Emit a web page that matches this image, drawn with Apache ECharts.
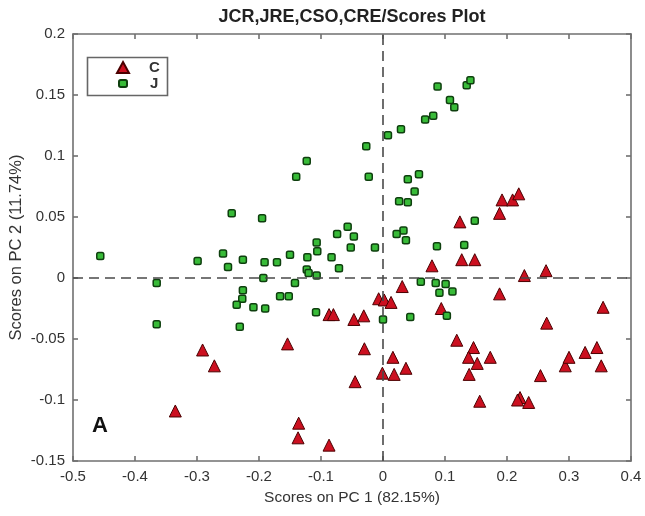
<!DOCTYPE html>
<html>
<head>
    <meta charset="utf-8">
    <title>Scores Plot</title>
    <script src="https://cdn.jsdelivr.net/npm/echarts@6/dist/echarts.min.js"></script>
    <style>
        html, body { margin: 0; padding: 0; background: #fff; }
        #chart { width: 645px; height: 516px; }
    </style>
</head>
<body>
<div id="chart"></div>
<script>
    // PC1 / PC2 scores
    var groupC = [
        [-0.335, -0.109], [-0.291, -0.059], [-0.272, -0.072], [-0.154, -0.054],
        [-0.136, -0.119], [-0.137, -0.131], [-0.087, -0.137], [-0.087, -0.030],
        [-0.080, -0.030], [-0.047, -0.034], [-0.031, -0.031], [-0.030, -0.058],
        [-0.045, -0.085], [-0.007, -0.017], [0.002, -0.018], [0.013, -0.020],
        [0.031, -0.007], [0.016, -0.065], [0.037, -0.074], [0.018, -0.079],
        [-0.001, -0.078], [0.079, 0.010], [0.127, 0.015], [0.148, 0.015],
        [0.124, 0.046], [0.188, 0.053], [0.192, 0.064], [0.209, 0.064],
        [0.219, 0.069], [0.094, -0.025], [0.188, -0.013], [0.228, 0.002],
        [0.263, 0.006], [0.264, -0.037], [0.355, -0.024], [0.119, -0.051],
        [0.146, -0.057], [0.138, -0.065], [0.173, -0.065], [0.152, -0.070],
        [0.139, -0.079], [0.156, -0.101], [0.221, -0.098], [0.217, -0.100],
        [0.235, -0.102], [0.254, -0.080], [0.294, -0.072], [0.300, -0.065],
        [0.326, -0.061], [0.345, -0.057], [0.352, -0.072]
    ];
    var groupJ = [
        [-0.456, 0.018], [-0.365, -0.004], [-0.365, -0.038], [-0.299, 0.014],
        [-0.258, 0.020], [-0.250, 0.009], [-0.244, 0.053], [-0.226, 0.015],
        [-0.226, -0.010], [-0.227, -0.017], [-0.236, -0.022], [-0.209, -0.024],
        [-0.190, -0.025], [-0.231, -0.040], [-0.195, 0.049], [-0.191, 0.013],
        [-0.193, 0.000], [-0.171, 0.013], [-0.150, 0.019], [-0.142, -0.004],
        [-0.166, -0.015], [-0.152, -0.015], [-0.140, 0.083], [-0.123, 0.096],
        [-0.122, 0.017], [-0.107, 0.029], [-0.106, 0.022], [-0.123, 0.007],
        [-0.120, 0.004], [-0.107, 0.002], [-0.108, -0.028], [-0.083, 0.017],
        [-0.071, 0.008], [-0.074, 0.036], [-0.057, 0.042], [-0.047, 0.034],
        [-0.052, 0.025], [-0.013, 0.025], [-0.027, 0.108], [-0.023, 0.083],
        [0.008, 0.117], [0.029, 0.122], [0.068, 0.130], [0.081, 0.133],
        [0.088, 0.157], [0.108, 0.146], [0.115, 0.140], [0.135, 0.158],
        [0.141, 0.162], [0.058, 0.085], [0.040, 0.081], [0.051, 0.071],
        [0.026, 0.063], [0.040, 0.062], [0.148, 0.047], [0.033, 0.039],
        [0.022, 0.036], [0.037, 0.031], [0.087, 0.026], [0.131, 0.027],
        [0.061, -0.003], [0.085, -0.004], [0.101, -0.005], [0.091, -0.012],
        [0.112, -0.011], [0.044, -0.032], [0.103, -0.031], [0.000, -0.034]
    ];
    var xRange = [-0.5, 0.4];
    var yRange = [-0.15, 0.2];

    var fmt = function (v) { return String(Math.round(v * 100) / 100); };
    var frame = { color: '#707070', width: 1.6 };
    var redC = '#cc1020', greenJ = '#38bb38';

    var myChart = echarts.init(document.getElementById('chart'));
    var option = {
        animation: false,
        textStyle: { fontFamily: 'Liberation Sans, Arial, sans-serif' },
        title: [{
            text: 'JCR,JRE,CSO,CRE/Scores Plot',
            left: 352, top: 8, padding: 0, textAlign: 'center',
            textStyle: { fontSize: 18, fontWeight: 'bold', color: '#222' }
        }, {
            text: 'A',
            left: 92, top: 415, padding: 0,
            textStyle: { fontSize: 22, fontWeight: 'bold', color: '#111' }
        }],
        grid: { left: 73, right: 14, top: 34, bottom: 55, outerBoundsMode: 'none', containLabel: false },
        // legend frame is drawn separately so both entries can keep their own icon size
        graphic: [{
            type: 'rect',
            shape: { x: 87.5, y: 57.5, width: 80, height: 38 },
            style: { fill: '#fff', stroke: '#666', lineWidth: 1.6 },
            z: 5
        }],
        legend: [{
            data: ['C'],
            left: 116, top: 60, padding: 0,
            itemWidth: 12, itemHeight: 11,
            textStyle: { fontSize: 15, fontWeight: 'bold', color: '#333', padding: [0, 0, 0, 15] },
            z: 10
        }, {
            data: ['J'],
            left: 118, top: 76, padding: 0,
            itemWidth: 8, itemHeight: 7,
            textStyle: { fontSize: 15, fontWeight: 'bold', color: '#333', padding: [0, 0, 0, 18] },
            z: 10
        }],
        xAxis: [{
            type: 'value', min: xRange[0], max: xRange[1], interval: 0.1,
            name: 'Scores on PC 1 (82.15%)', nameLocation: 'middle', nameGap: 29,
            nameMoveOverlap: false,
            nameTextStyle: { fontSize: 15.5, color: '#333' },
            axisLine: { onZero: false, lineStyle: frame },
            axisTick: { inside: true, length: 5, lineStyle: frame },
            axisLabel: { formatter: fmt, fontSize: 15, color: '#333', margin: 8 },
            splitLine: { show: false }
        }, {
            type: 'value', position: 'top', min: xRange[0], max: xRange[1], interval: 0.1,
            axisLine: { onZero: false, lineStyle: frame },
            axisTick: { inside: true, length: 5, lineStyle: frame },
            axisLabel: { show: false },
            splitLine: { show: false }
        }],
        yAxis: [{
            type: 'value', min: yRange[0], max: yRange[1], interval: 0.05,
            name: 'Scores on PC 2 (11.74%)', nameLocation: 'middle', nameGap: 48,
            nameMoveOverlap: false,
            nameTextStyle: { fontSize: 16.5, color: '#333' },
            axisLine: { onZero: false, lineStyle: frame },
            axisTick: { inside: true, length: 5, lineStyle: frame },
            axisLabel: { formatter: fmt, fontSize: 15, color: '#333', margin: 8 },
            splitLine: { show: false }
        }, {
            type: 'value', position: 'right', min: yRange[0], max: yRange[1], interval: 0.05,
            axisLine: { onZero: false, lineStyle: frame },
            axisTick: { inside: true, length: 5, lineStyle: frame },
            axisLabel: { show: false },
            splitLine: { show: false }
        }],
        series: [{
            name: 'zero',
            type: 'scatter',
            data: [],
            z: 1,
            markLine: {
                silent: true,
                symbol: 'none',
                label: { show: false },
                lineStyle: { color: '#4a4a4a', width: 1.6, type: [10, 6] },
                data: [{ xAxis: 0 }, { yAxis: 0 }]
            }
        }, {
            name: 'C',
            type: 'scatter',
            data: groupC,
            z: 2,
            symbol: 'triangle',
            symbolSize: 12,
            itemStyle: { color: redC, borderColor: '#4a0000', borderWidth: 1, opacity: 1 }
        }, {
            name: 'J',
            type: 'scatter',
            data: groupJ,
            z: 3,
            symbol: 'roundRect',
            symbolSize: 7,
            itemStyle: { color: greenJ, borderColor: '#0e3f0e', borderWidth: 1.5, opacity: 1 }
        }]
    };
    myChart.setOption(option);
</script>
</body>
</html>
